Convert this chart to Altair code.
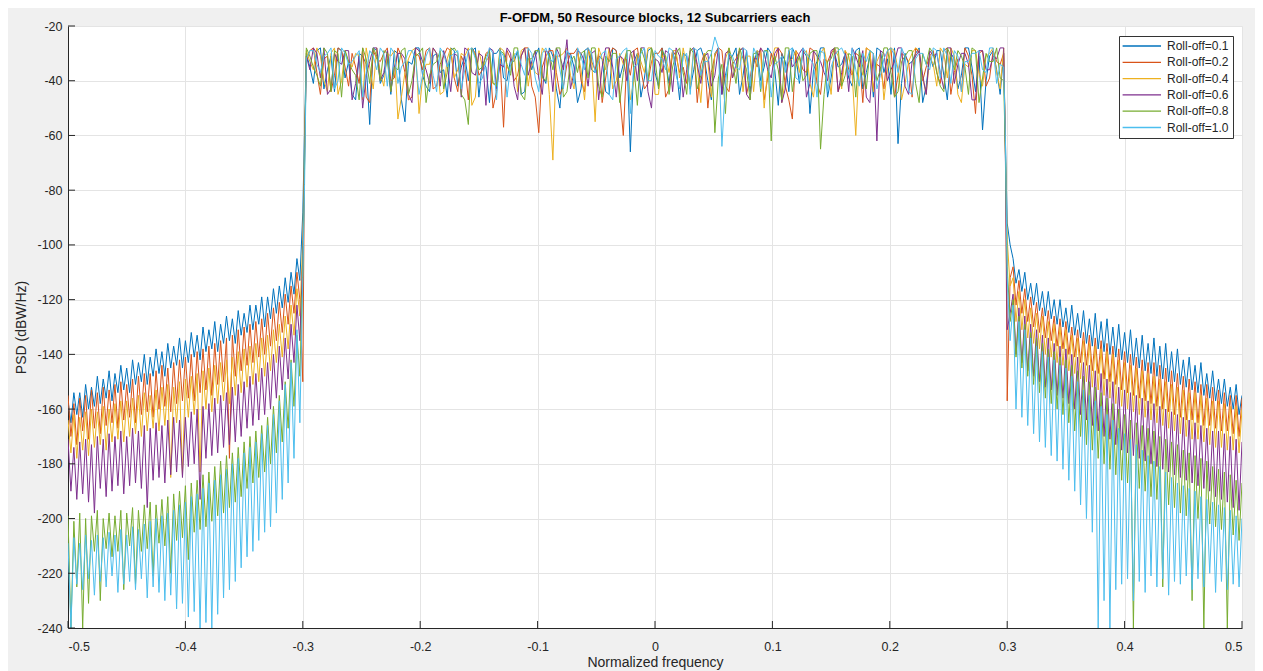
import altair as alt
import pandas as pd

# ---------------- labels / colours ----------------
series_labels = ["Roll-off=0.1", "Roll-off=0.2", "Roll-off=0.4",
                 "Roll-off=0.6", "Roll-off=0.8", "Roll-off=1.0"]
series_colors = ["#0072BD", "#D95319", "#EDB120", "#7E2F8E", "#77AC30", "#4DBEEE"]
x_ticks = [-0.5, -0.4, -0.3, -0.2, -0.1, 0.0, 0.1, 0.2, 0.3, 0.4, 0.5]
y_ticks = [-240, -220, -200, -180, -160, -140, -120, -100, -80, -60, -40, -20]

# ---------------- frequency grids ----------------
left_peak_x = [round(-0.5 + 0.005 * k, 4) for k in range(40)]
left_trough_x = [round(-0.4975 + 0.005 * k, 4) for k in range(40)]
left_edge_x = [-0.3, -0.2985]
pass_x = [round(-0.297 + 0.006 * j, 4) for j in range(100)]
pass_x2 = [round(-0.294 + 0.006 * j, 4) for j in range(99)]
right_edge_x = [0.2985, 0.3]
right_trough_x = [round(0.3025 + 0.005 * k, 4) for k in range(40)]
right_peak_x = [round(0.305 + 0.005 * k, 4) for k in range(40)]

# ---------------- Roll-off = 0.1 ----------------
b01_lp = [-157,-154,-154,-151,-152,-148,-149,-146,-147,-144,-145,-142,-143,-140,-141,-138,-139,-136,-137,-134,
          -135,-132,-133,-130,-131,-128,-129,-126,-127,-124,-125,-122,-122,-119,-119,-116,-115,-112,-110,-105]
b01_lt = [-165,-162,-163,-160,-159,-158,-156,-157,-154,-153,-154,-151,-150,-151,-148,-147,-148,-145,-144,-145,
          -143,-141,-142,-139,-138,-139,-136,-135,-136,-133,-132,-131,-129,-130,-127,-125,-123,-121,-118,-113]
b01_le = [-88, -58]
b01_pb = [-30,-41,-28,-36,-44,-29,-33,-47,-31,-56,-29,-38,-45,-30,-55,-34,-28,-42,-31,-37,
          -46,-29,-35,-40,-28,-33,-48,-30,-39,-32,-29,-44,-36,-28,-41,-31,-50,-30,-35,-43,
          -28,-37,-32,-45,-29,-34,-66,-30,-39,-28,-42,-33,-29,-47,-31,-36,-28,-40,-30,-45,
          -32,-28,-38,-44,-29,-35,-30,-49,-33,-28,-41,-31,-36,-28,-46,-30,-34,-39,-29,-43,
          -31,-28,-37,-45,-63,-30,-33,-28,-42,-35,-29,-47,-32,-38,-28,-44,-58,-31,-36,-30]
b01_pb2 = [-35,-29,-43,-31,-28,-39,-45,-30,-34,-28,-41,-32,-29,-47,-33,-28,-38,-44,-30,-36,
           -28,-42,-31,-29,-46,-35,-30,-28,-40,-33,-45,-29,-31,-38,-28,-43,-34,-30,-48,-29,
           -36,-31,-44,-28,-39,-30,-33,-46,-29,-37,-28,-41,-35,-30,-43,-29,-32,-47,-28,-38,
           -31,-45,-29,-34,-40,-28,-36,-30,-44,-31,-29,-52,-33,-28,-39,-35,-30,-42,-28,-37,
           -46,-29,-32,-28,-41,-34,-30,-48,-31,-29,-38,-30,-43,-28,-35,-31,-40,-29,-45,-33]
b01_re = [-62, -92]
b01_rt = [-100,-114,-117,-120,-122,-124,-126,-127,-129,-130,-132,-133,-134,-136,-137,-138,-139,-140,-141,-142,
          -143,-144,-145,-146,-147,-148,-149,-150,-150,-151,-152,-153,-154,-155,-156,-157,-158,-159,-160,-162]
b01_rp = [-105,-109,-110,-114,-114,-117,-117,-120,-120,-123,-122,-125,-124,-127,-125,-128,-127,-130,-129,-132,
          -131,-134,-133,-136,-134,-137,-136,-139,-138,-142,-141,-144,-143,-147,-146,-149,-149,-152,-151,-155]

# ---------------- Roll-off = 0.2 ----------------
b02_lp = [-155,-158,-156,-155,-153,-154,-152,-153,-151,-150,-151,-149,-148,-147,-147,-146,-144,-145,-143,-142,
          -141,-140,-139,-138,-137,-136,-135,-134,-133,-131,-130,-129,-128,-127,-125,-123,-121,-118,-115,-110]
b02_lt = [-170,-173,-168,-171,-167,-169,-166,-165,-167,-164,-163,-165,-162,-161,-163,-160,-159,-161,-158,-157,
          -156,-157,-154,-153,-155,-151,-150,-178,-148,-146,-144,-143,-141,-140,-137,-135,-132,-129,-125,-120]
b02_le = [-150, -66]
b02_pb = [-33,-28,-45,-31,-38,-29,-42,-35,-28,-48,-32,-30,-40,-28,-37,-46,-31,-29,-43,-34,
          -28,-39,-31,-47,-30,-36,-29,-44,-57,-32,-38,-28,-42,-59,-31,-29,-45,-34,-30,-40,
          -28,-36,-48,-31,-29,-60,-38,-28,-43,-33,-30,-46,-29,-37,-41,-28,-34,-50,-31,-29,
          -44,-32,-28,-39,-35,-47,-30,-28,-42,-54,-31,-37,-29,-45,-33,-28,-40,-36,-30,-48,
          -29,-34,-43,-28,-38,-31,-46,-30,-35,-29,-41,-28,-37,-44,-31,-52,-29,-39,-33,-30]
b02_pb2 = [-29,-37,-32,-44,-28,-35,-30,-41,-46,-29,-33,-28,-39,-31,-47,-30,-36,-28,-42,-31,
           -29,-44,-34,-28,-38,-30,-50,-32,-29,-40,-31,-28,-46,-35,-29,-37,-42,-30,-28,-44,
           -33,-30,-39,-28,-45,-32,-29,-36,-41,-30,-28,-43,-31,-35,-29,-48,-30,-37,-28,-42,
           -34,-29,-45,-31,-28,-39,-33,-30,-47,-29,-36,-28,-41,-32,-30,-44,-29,-38,-31,-28,
           -43,-35,-29,-46,-30,-33,-28,-40,-31,-37,-29,-45,-32,-28,-38,-30,-42,-29,-34,-31]
b02_re = [-64, -157]
b02_rt = [-112,-122,-125,-128,-130,-132,-134,-135,-137,-138,-140,-141,-143,-144,-146,-147,-149,-150,-151,-153,
          -154,-155,-156,-157,-158,-159,-160,-161,-162,-163,-164,-164,-165,-166,-166,-167,-168,-168,-169,-170]
b02_rp = [-108,-113,-116,-119,-121,-123,-124,-126,-127,-128,-130,-131,-132,-133,-134,-135,-136,-137,-138,-139,
          -140,-141,-142,-143,-143,-144,-145,-146,-147,-148,-149,-150,-151,-151,-152,-153,-154,-155,-155,-156]

# ---------------- Roll-off = 0.4 ----------------
b04_lp = [-164,-162,-163,-161,-160,-161,-159,-160,-158,-157,-157,-156,-155,-154,-155,-153,-152,-151,-152,-150,
          -149,-148,-147,-146,-145,-144,-143,-142,-141,-139,-138,-137,-136,-134,-133,-131,-129,-126,-122,-116]
b04_lt = [-176,-178,-175,-177,-174,-173,-175,-172,-171,-172,-170,-169,-170,-168,-167,-168,-166,-185,-165,-184,
          -163,-162,-183,-160,-161,-158,-157,-158,-155,-154,-152,-151,-150,-148,-146,-143,-141,-138,-133,-126]
b04_le = [-98, -64]
b04_pb = [-29,-36,-31,-44,-28,-40,-33,-30,-47,-35,-28,-42,-31,-54,-37,-29,-52,-34,-28,-45,
          -32,-39,-30,-28,-46,-35,-31,-41,-29,-37,-44,-28,-33,-38,-30,-69,-31,-28,-43,-36,
          -29,-55,-32,-28,-40,-34,-47,-30,-37,-28,-45,-31,-29,-39,-35,-28,-48,-33,-30,-42,
          -28,-36,-44,-31,-29,-50,-34,-28,-40,-32,-37,-29,-46,-30,-35,-28,-43,-31,-60,-38,
          -29,-33,-47,-28,-36,-41,-30,-29,-45,-34,-28,-39,-31,-48,-35,-29,-42,-30,-37,-28]
b04_pb2 = [-33,-28,-40,-30,-45,-29,-35,-31,-28,-43,-37,-30,-29,-46,-32,-28,-39,-34,-30,-44,
           -28,-36,-31,-49,-29,-33,-41,-28,-35,-30,-29,-42,-37,-28,-45,-31,-30,-38,-29,-47,
           -32,-28,-36,-43,-30,-29,-40,-33,-28,-45,-31,-37,-29,-28,-42,-35,-30,-46,-29,-32,
           -39,-28,-31,-44,-30,-36,-28,-48,-33,-29,-30,-41,-34,-28,-45,-31,-29,-38,-32,-28,
           -44,-30,-36,-29,-47,-33,-28,-39,-31,-42,-30,-28,-45,-34,-29,-37,-31,-28,-43,-32]
b04_re = [-66, -98]
b04_rt = [-115,-128,-131,-134,-136,-138,-140,-141,-143,-144,-146,-147,-149,-150,-152,-153,-155,-156,-158,-159,
          -160,-161,-162,-163,-164,-165,-166,-167,-168,-169,-170,-171,-171,-172,-173,-174,-174,-175,-175,-176]
b04_rp = [-112,-117,-120,-123,-125,-126,-128,-129,-130,-131,-133,-134,-135,-136,-137,-138,-139,-140,-142,-143,
          -144,-145,-146,-147,-148,-149,-150,-151,-152,-153,-154,-154,-155,-156,-157,-157,-158,-159,-159,-160]

# ---------------- Roll-off = 0.6 ----------------
b06_lp = [-171,-174,-172,-171,-173,-170,-171,-169,-170,-168,-170,-167,-168,-166,-167,-165,-166,-164,-163,-164,
          -163,-161,-160,-159,-158,-156,-155,-154,-152,-151,-150,-148,-147,-145,-143,-140,-137,-134,-129,-122]
b06_lt = [-190,-193,-191,-194,-198,-189,-192,-190,-188,-191,-188,-187,-189,-196,-186,-185,-187,-184,-183,-185,
          -181,-180,-193,-178,-177,-176,-174,-173,-172,-170,-167,-166,-164,-162,-160,-156,-153,-149,-143,-135]
b06_le = [-104, -70]
b06_pb = [-31,-28,-39,-45,-30,-34,-29,-41,-50,-33,-28,-37,-44,-30,-32,-48,-29,-36,-28,-42,
          -34,-30,-46,-29,-38,-31,-28,-43,-35,-30,-47,-28,-33,-39,-29,-44,-31,-25,-37,-30,
          -42,-29,-35,-28,-46,-32,-30,-40,-28,-50,-33,-29,-44,-31,-36,-28,-41,-30,-38,-45,
          -29,-34,-28,-47,-32,-30,-39,-28,-43,-35,-30,-46,-29,-33,-40,-28,-37,-44,-31,-29,
          -48,-62,-30,-36,-28,-42,-33,-29,-45,-31,-37,-28,-41,-30,-34,-47,-29,-36,-32,-28]
b06_pb2 = [-36,-30,-28,-43,-33,-29,-47,-31,-38,-28,-40,-29,-35,-30,-45,-28,-33,-41,-30,-29,
           -44,-31,-28,-37,-30,-49,-29,-34,-28,-42,-31,-38,-29,-45,-30,-28,-36,-43,-29,-33,
           -30,-47,-28,-35,-31,-40,-29,-28,-44,-32,-37,-30,-28,-46,-29,-34,-31,-42,-28,-30,
           -39,-29,-45,-32,-28,-36,-30,-48,-29,-33,-28,-41,-31,-37,-29,-44,-30,-28,-35,-46,
           -30,-29,-40,-33,-28,-45,-31,-38,-29,-30,-43,-28,-34,-30,-47,-29,-36,-31,-28,-41]
b06_re = [-70, -131]
b06_rt = [-125,-140,-143,-146,-148,-150,-152,-153,-155,-156,-158,-160,-162,-164,-166,-168,-170,-171,-173,-175,
          -176,-177,-178,-179,-180,-181,-182,-183,-184,-185,-186,-187,-188,-189,-190,-192,-193,-194,-196,-197]
b06_rp = [-118,-123,-126,-129,-131,-133,-134,-136,-137,-138,-140,-141,-143,-144,-146,-147,-149,-150,-152,-153,
          -154,-155,-156,-157,-158,-159,-160,-161,-162,-163,-164,-165,-166,-167,-168,-168,-169,-170,-171,-172]

# ---------------- Roll-off = 0.8 ----------------
b08_lp = [-199,-201,-198,-200,-199,-197,-200,-198,-199,-197,-198,-196,-197,-195,-194,-195,-193,-192,-191,-190,
          -188,-187,-186,-184,-183,-181,-179,-177,-176,-174,-172,-170,-168,-166,-163,-159,-155,-150,-142,-133]
b08_lt = [-240,-225,-240,-231,-212,-230,-211,-214,-212,-226,-210,-224,-212,-211,-221,-209,-210,-220,-208,-207,
          -215,-205,-204,-203,-201,-199,-198,-196,-194,-192,-189,-187,-185,-183,-180,-176,-172,-167,-159,-148]
b08_le = [-108, -72]
b08_pb = [-28,-35,-42,-30,-29,-46,-33,-38,-28,-41,-31,-29,-44,-36,-28,-40,-30,-48,-34,-29,
          -37,-28,-45,-56,-31,-35,-29,-42,-30,-38,-28,-47,-32,-29,-40,-36,-28,-44,-31,-30,
          -39,-28,-46,-33,-30,-37,-29,-49,-32,-28,-43,-31,-35,-28,-45,-30,-38,-29,-59,-34,
          -28,-41,-32,-47,-30,-29,-62,-36,-28,-44,-31,-38,-29,-65,-33,-28,-42,-30,-46,-35,
          -29,-40,-28,-37,-44,-31,-29,-48,-34,-30,-42,-28,-36,-31,-45,-29,-39,-33,-28,-40]
b08_pb2 = [-31,-38,-28,-44,-30,-29,-36,-47,-32,-28,-40,-30,-35,-29,-45,-31,-28,-38,-33,-43,
           -29,-30,-47,-28,-36,-31,-41,-29,-34,-28,-45,-32,-29,-39,-30,-28,-46,-33,-37,-29,
           -28,-42,-31,-30,-48,-29,-35,-28,-40,-32,-29,-45,-30,-37,-28,-43,-31,-29,-39,-52,
           -33,-28,-36,-30,-44,-29,-31,-47,-28,-35,-40,-30,-29,-45,-32,-28,-38,-31,-29,-43,
           -30,-36,-28,-46,-33,-29,-41,-30,-28,-37,-44,-31,-29,-35,-28,-48,-30,-33,-39,-29]
b08_re = [-68, -108]
b08_rt = [-128,-141,-145,-148,-151,-154,-156,-158,-160,-162,-165,-168,-170,-173,-175,-178,-180,-182,-184,-186,
          -187,-240,-189,-190,-192,-193,-225,-195,-196,-198,-199,-230,-200,-240,-202,-203,-204,-240,-206,-208]
b08_rp = [-120,-126,-129,-132,-134,-136,-138,-139,-141,-142,-144,-146,-148,-150,-152,-154,-156,-158,-160,-162,
          -164,-165,-166,-167,-168,-170,-171,-172,-173,-175,-176,-177,-178,-179,-181,-182,-183,-184,-186,-187]

# ---------------- Roll-off = 1.0 ----------------
b10_lp = [-209,-207,-209,-206,-208,-206,-207,-205,-206,-204,-206,-203,-204,-202,-201,-200,-199,-198,-197,-195,
          -194,-192,-191,-189,-187,-186,-184,-182,-180,-178,-176,-174,-172,-169,-166,-162,-157,-151,-143,-131]
b10_lt = [-240,-224,-226,-222,-228,-223,-225,-221,-227,-224,-223,-226,-222,-229,-225,-227,-230,-228,-233,-231,
          -236,-234,-240,-238,-240,-235,-229,-226,-223,-218,-214,-212,-208,-205,-203,-198,-193,-187,-178,-165]
b10_le = [-112, -78]
b10_pb = [-32,-29,-37,-30,-43,-28,-34,-31,-46,-29,-36,-30,-28,-41,-33,-29,-45,-31,-38,-28,
          -35,-30,-43,-29,-32,-39,-28,-47,-31,-34,-29,-38,-30,-44,-28,-33,-36,-29,-41,-31,
          -28,-37,-30,-45,-32,-29,-52,-34,-28,-40,-31,-36,-29,-43,-30,-28,-38,-33,-24,-64,
          -30,-35,-28,-42,-31,-29,-46,-33,-37,-28,-40,-30,-34,-29,-44,-31,-28,-38,-36,-30,
          -29,-43,-32,-28,-37,-31,-45,-30,-34,-28,-39,-31,-29,-44,-33,-30,-36,-28,-41,-35]
b10_pb2 = [-29,-34,-31,-28,-40,-30,-33,-29,-37,-31,-28,-42,-30,-35,-29,-32,-38,-28,-44,-30,
           -31,-29,-36,-28,-41,-33,-30,-29,-46,-31,-34,-28,-39,-30,-32,-29,-43,-31,-28,-36,
           -30,-33,-29,-47,-31,-28,-35,-30,-40,-29,-32,-28,-38,-31,-45,-29,-33,-30,-28,-41,
           -31,-36,-29,-28,-43,-30,-34,-31,-29,-39,-28,-32,-46,-30,-35,-29,-31,-28,-42,-33,
           -30,-38,-29,-31,-28,-44,-32,-30,-36,-29,-28,-41,-31,-33,-30,-29,-37,-28,-34,-31]
b10_re = [-62, -112]
b10_rt = [-135,-160,-163,-166,-169,-172,-174,-177,-179,-182,-186,-190,-195,-200,-205,-240,-230,-240,-226,-224,
          -222,-230,-223,-227,-221,-225,-222,-228,-223,-224,-221,-226,-222,-225,-220,-227,-223,-226,-224,-225]
b10_rp = [-122,-128,-131,-134,-137,-139,-141,-142,-144,-145,-148,-150,-153,-155,-157,-159,-162,-164,-167,-169,
          -171,-173,-175,-177,-179,-181,-183,-185,-187,-188,-189,-190,-192,-193,-194,-195,-196,-197,-199,-200]

series_parts = [
    (b01_lp, b01_lt, b01_le, b01_pb, b01_pb2, b01_re, b01_rt, b01_rp),
    (b02_lp, b02_lt, b02_le, b02_pb, b02_pb2, b02_re, b02_rt, b02_rp),
    (b04_lp, b04_lt, b04_le, b04_pb, b04_pb2, b04_re, b04_rt, b04_rp),
    (b06_lp, b06_lt, b06_le, b06_pb, b06_pb2, b06_re, b06_rt, b06_rp),
    (b08_lp, b08_lt, b08_le, b08_pb, b08_pb2, b08_re, b08_rt, b08_rp),
    (b10_lp, b10_lt, b10_le, b10_pb, b10_pb2, b10_re, b10_rt, b10_rp),
]
grids = [left_peak_x, left_trough_x, left_edge_x, pass_x, pass_x2, right_edge_x, right_trough_x, right_peak_x]

rows = []
for si, (label, parts) in enumerate(zip(series_labels, series_parts)):
    pts = []
    for gx, vals in zip(grids, parts):
        pts.extend(zip(gx, vals))
    pts.sort(key=lambda p: p[0])
    for f, v in pts:
        rows.append({"f": f, "psd": v, "series": label, "s": si})
df = pd.DataFrame(rows)

FONT = "Liberation Sans"
DARK = "#262626"

x_enc = alt.X("f:Q",
              scale=alt.Scale(domain=[-0.5, 0.5], nice=False, zero=False),
              axis=alt.Axis(values=x_ticks, title="Normalized frequency",
                            labelExpr="datum.value < 0 ? '-' + format(-datum.value, '') : format(datum.value, '')",
                            labelPadding=12, titlePadding=3))
y_enc = alt.Y("psd:Q",
              scale=alt.Scale(domain=[-240, -20], nice=False, zero=False),
              axis=alt.Axis(values=y_ticks, title="PSD (dBW/Hz)",
                            labelExpr="datum.value < 0 ? '-' + format(-datum.value, 'd') : format(datum.value, 'd')",
                            labelPadding=6, titlePadding=8))

lines = alt.Chart(df).mark_line(strokeWidth=1, clip=True).encode(
    x=x_enc,
    y=y_enc,
    color=alt.Color("series:N",
                    scale=alt.Scale(domain=series_labels, range=series_colors),
                    legend=alt.Legend(title=None, orient="none", legendX=1051, legendY=10,
                                      symbolType="M-1.6,0H8.0", symbolSize=64, symbolStrokeWidth=1.3,
                                      symbolFillColor="transparent",
                                      labelFont=FONT, labelFontSize=12, labelColor=DARK,
                                      fillColor="white", strokeColor="#333333", padding=4,
                                      rowPadding=4.3, labelOffset=32, cornerRadius=0)),
    detail="s:N",
)

xt = alt.Chart(pd.DataFrame({"t": x_ticks})).mark_rule(color=DARK, strokeWidth=1).encode(
    x=alt.X("t:Q"), y=alt.value(602), y2=alt.value(595))
yt = alt.Chart(pd.DataFrame({"v": y_ticks})).mark_rule(color=DARK, strokeWidth=1).encode(
    y=alt.Y("v:Q"), x=alt.value(0), x2=alt.value(7))

chart = alt.layer(lines, xt, yt).properties(
    width=1174, height=602,
    title=alt.TitleParams("F-OFDM, 50 Resource blocks, 12 Subcarriers each",
                          font=FONT, fontSize=13, fontWeight="bold", color="#000000",
                          anchor="middle", frame="group", offset=-5),
    autosize=alt.AutoSizeParams(type="none"),
    padding={"left": 60, "top": 18, "right": 13, "bottom": 45},
    background="#f0f0f0",
).configure_view(fill="white", stroke=None).configure_axis(
    labelFont=FONT, labelFontSize=12.5, labelColor=DARK,
    titleFont=FONT, titleFontSize=14, titleFontWeight="normal", titleColor=DARK,
    domainColor=DARK, domainWidth=1, ticks=False,
    gridColor="#e4e4e4", gridWidth=1,
)

chart.save("out.html", embed_options={"renderer": "svg", "actions": False})
